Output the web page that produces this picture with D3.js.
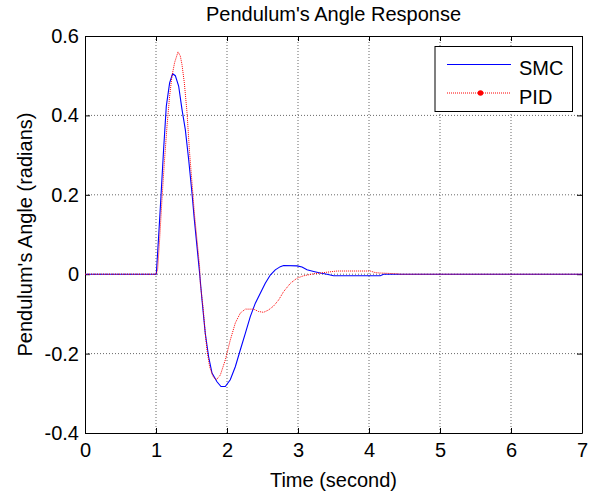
<!DOCTYPE html>
<html><head><meta charset="utf-8">
<script src="https://cdn.jsdelivr.net/npm/d3@7"></script>
<style>body{margin:0;background:#fff;} svg{display:block;font-family:"Liberation Sans",Arial,sans-serif;}</style>
</head><body>
<script>
const xTicks = [0,1,2,3,4,5,6,7];
const yTicks = [-0.4,-0.2,0,0.2,0.4,0.6];
const seriesNames = ["SMC","PID"];
const smcTime  = [0,1.0,1.004,1.037,1.07,1.107,1.145,1.192,1.234,1.272,1.319,1.366,1.413,1.46,1.507,1.54,1.577,1.614,1.648,1.694,1.741,1.789,1.859,1.915,1.976,2.046,2.117,2.187,2.258,2.328,2.399,2.469,2.539,2.61,2.68,2.751,2.797,2.986,3.056,3.127,3.22,3.314,3.408,3.501,4.159,4.206,7];
const smcAngle = [0,0,0,0.095,0.196,0.314,0.423,0.482,0.505,0.50,0.474,0.415,0.364,0.289,0.204,0.137,0.07,0.003,-0.065,-0.149,-0.208,-0.249,-0.271,-0.283,-0.283,-0.266,-0.233,-0.191,-0.149,-0.107,-0.073,-0.048,-0.023,-0.002,0.011,0.019,0.022,0.021,0.018,0.011,0.007,0.003,0,-0.004,-0.004,0,0];
const pidTime  = [0,1.0,1.023,1.051,1.084,1.117,1.155,1.192,1.225,1.262,1.31,1.342,1.366,1.399,1.437,1.473,1.507,1.54,1.577,1.614,1.624,1.662,1.694,1.718,1.755,1.803,1.849,1.906,1.976,2.046,2.117,2.187,2.258,2.375,2.445,2.516,2.586,2.657,2.727,2.797,2.892,2.986,3.079,3.22,3.314,3.501,3.549,4.018,4.089,4.159,4.394,4.45,7];
const pidAngle = [0,0,0.011,0.087,0.188,0.28,0.373,0.449,0.499,0.533,0.56,0.55,0.528,0.482,0.407,0.306,0.23,0.154,0.087,0.019,-0.023,-0.082,-0.149,-0.191,-0.233,-0.258,-0.266,-0.254,-0.216,-0.166,-0.123,-0.098,-0.088,-0.088,-0.094,-0.096,-0.09,-0.08,-0.065,-0.044,-0.023,-0.01,-0.004,0.001,0.003,0.007,0.008,0.008,0.004,0.003,0.001,0,0];

const W=593,H=495;
const m={l:85,r:11,t:36,b:62};
const FS="20px";
const svg=d3.select("body").append("svg").attr("width",W).attr("height",H);
const x=d3.scaleLinear().domain([0,7]).range([m.l,W-m.r]);
const y=d3.scaleLinear().domain([-0.4,0.6]).range([H-m.b,m.t]);

// grid
const g=svg.append("g");
g.selectAll(".vg").data(xTicks.slice(1,-1)).join("line")
 .attr("x1",d=>x(d)).attr("x2",d=>x(d)).attr("y1",y(-0.4)).attr("y2",y(0.6))
 .attr("stroke","#000").attr("stroke-width",0.6).attr("stroke-dasharray","1,2");
g.selectAll(".hg").data(yTicks.slice(1,-1)).join("line")
 .attr("y1",d=>y(d)).attr("y2",d=>y(d)).attr("x1",x(0)).attr("x2",x(7))
 .attr("stroke","#000").attr("stroke-width",0.6).attr("stroke-dasharray","1,2");

// axes
const fmt=d=>d===0?"0":d3.format(".1f")(d).replace("\u2212","-");
const ax=svg.append("g").attr("transform",`translate(0,${y(-0.4)})`)
 .call(d3.axisBottom(x).tickValues(xTicks).tickFormat(d3.format("d")).tickSizeInner(-5).tickSizeOuter(0).tickPadding(10));
const ay=svg.append("g").attr("transform",`translate(${x(0)},0)`)
 .call(d3.axisLeft(y).tickValues(yTicks).tickFormat(fmt).tickSizeInner(-5).tickSizeOuter(0).tickPadding(6));
const axT=svg.append("g").attr("transform",`translate(0,${y(0.6)})`)
 .call(d3.axisTop(x).tickValues(xTicks).tickFormat("").tickSizeInner(-5).tickSizeOuter(0));
const ayR=svg.append("g").attr("transform",`translate(${x(7)},0)`)
 .call(d3.axisRight(y).tickValues(yTicks).tickFormat("").tickSizeInner(-5).tickSizeOuter(0));
[ax,ay,axT,ayR].forEach(a=>{a.selectAll("path,line").attr("stroke","#000");a.selectAll("text").attr("fill","#000").style("font-size",FS).style("font-family","Liberation Sans, Arial, sans-serif");});

const line=d3.line().x(d=>x(d[0])).y(d=>y(d[1]));
const smc=d3.zip(smcTime,smcAngle), pid=d3.zip(pidTime,pidAngle);
svg.append("path").datum(smc).attr("d",line).attr("fill","none").attr("stroke","#0000ff").attr("stroke-width",1.1);
svg.append("path").datum(pid).attr("d",line).attr("fill","none").attr("stroke","#ff0000").attr("stroke-width",1).attr("stroke-dasharray","1,1");

// title and labels
svg.append("text").attr("x",(x(0)+x(7))/2).attr("y",21).attr("text-anchor","middle").style("font-size",FS).text("Pendulum's Angle Response");
svg.append("text").attr("x",(x(0)+x(7))/2).attr("y",487).attr("text-anchor","middle").style("font-size",FS).text("Time (second)");
svg.append("text").attr("transform",`translate(32,${(y(-0.4)+y(0.6))/2}) rotate(-90)`).attr("text-anchor","middle").style("font-size",FS).text("Pendulum's Angle (radians)");

// legend
const lg=svg.append("g");
lg.append("rect").attr("x",435).attr("y",46.5).attr("width",137.5).attr("height",65).attr("fill","#fff").attr("stroke","#000");
const ly=[64.5,93];
lg.append("line").attr("x1",447).attr("x2",511).attr("y1",ly[0]).attr("y2",ly[0]).attr("stroke","#0000ff");
lg.append("line").attr("x1",447).attr("x2",511).attr("y1",ly[1]).attr("y2",ly[1]).attr("stroke","#ff0000").attr("stroke-dasharray","1,1");
lg.append("circle").attr("cx",480.5).attr("cy",ly[1]).attr("r",2.8).attr("fill","#ff0000");
lg.selectAll(".lt").data(seriesNames).join("text").attr("x",519).attr("y",(d,i)=>ly[i]+10.5).style("font-size",FS).text(d=>d);
</script>
</body></html>
